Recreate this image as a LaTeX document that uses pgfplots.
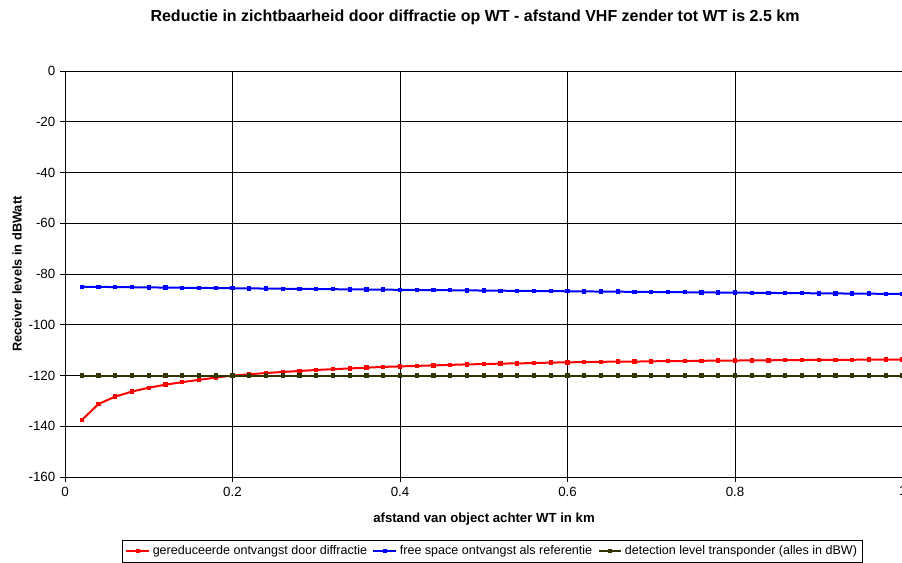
\documentclass[border=0pt]{standalone}
\usepackage{fontspec}
\setmainfont{Liberation Sans}
\usepackage{pgfplots}
\pgfplotsset{compat=1.18}
\definecolor{olv}{RGB}{51,51,0}

\pgfplotstableread{
x red blue green
0.02 -137.6 -85.00 -120
0.04 -131.2 -85.07 -120
0.06 -128.3 -85.14 -120
0.08 -126.3 -85.20 -120
0.10 -124.8 -85.27 -120
0.12 -123.6 -85.34 -120
0.14 -122.6 -85.40 -120
0.16 -121.7 -85.47 -120
0.18 -120.8 -85.53 -120
0.20 -120.0 -85.60 -120
0.22 -119.5 -85.66 -120
0.24 -119.0 -85.73 -120
0.26 -118.6 -85.79 -120
0.28 -118.2 -85.85 -120
0.30 -117.8 -85.91 -120
0.32 -117.5 -85.98 -120
0.34 -117.2 -86.04 -120
0.36 -116.9 -86.10 -120
0.38 -116.6 -86.16 -120
0.40 -116.4 -86.22 -120
0.42 -116.2 -86.28 -120
0.44 -116.0 -86.34 -120
0.46 -115.8 -86.40 -120
0.48 -115.6 -86.45 -120
0.50 -115.5 -86.51 -120
0.52 -115.3 -86.57 -120
0.54 -115.2 -86.63 -120
0.56 -115.1 -86.68 -120
0.58 -114.9 -86.74 -120
0.60 -114.8 -86.80 -120
0.62 -114.7 -86.85 -120
0.64 -114.6 -86.91 -120
0.66 -114.5 -86.96 -120
0.68 -114.5 -87.02 -120
0.70 -114.4 -87.07 -120
0.72 -114.3 -87.13 -120
0.74 -114.3 -87.18 -120
0.76 -114.2 -87.23 -120
0.78 -114.1 -87.29 -120
0.80 -114.1 -87.34 -120
0.82 -114.0 -87.39 -120
0.84 -114.0 -87.45 -120
0.86 -113.9 -87.50 -120
0.88 -113.9 -87.55 -120
0.90 -113.8 -87.60 -120
0.92 -113.8 -87.65 -120
0.94 -113.8 -87.70 -120
0.96 -113.7 -87.75 -120
0.98 -113.7 -87.80 -120
1.00 -113.7 -87.85 -120
}\data

\begin{document}
\begin{tikzpicture}
\begin{axis}[
  name=ax, at={(0,0)}, anchor=south west,
  scale only axis, width=628.1pt, height=304.5pt,
  xmin=0, xmax=1, ymin=-160, ymax=0,
  xtick={0,0.2,0.4,0.6,0.8,1}, ytick={-160,-140,-120,-100,-80,-60,-40,-20,0},
  axis lines=left, axis line style={-, black, line width=0.75pt},
  grid=major, grid style={black, line width=0.6pt},
  tick align=outside, major tick length=3.75pt,
  tick style={black, line width=0.6pt},
  /pgf/number format/assume math mode=true,
  ticklabel style={font=\fontsize{10}{11}\selectfont},
  legend columns=3,
  legend style={at={(0.5104,-0.1823)}, anchor=center, draw=black, line width=0.6pt,
    font=\fontsize{9.4}{11}\selectfont, inner sep=2pt,
    /tikz/every even column/.append style={column sep=2pt}},
  legend cell align=left,
]
\addplot[red, line width=1.5pt, mark=square*, mark size=0.9pt] table[x=x,y=red] {\data};
\addlegendentry{gereduceerde ontvangst door diffractie}
\addplot[blue, line width=1.5pt, mark=square*, mark size=0.9pt] table[x=x,y=blue] {\data};
\addlegendentry{free space ontvangst als referentie}
\addplot[olv, line width=1.5pt, mark=square*, mark size=0.9pt] table[x=x,y=green] {\data};
\addlegendentry{detection level transponder (alles in dBW)}
\end{axis}
\node[font=\bfseries\fontsize{12}{14}\selectfont] at (307.5pt,345pt) {Reductie in zichtbaarheid door diffractie op WT - afstand VHF zender tot WT is 2.5 km};
\node[font=\bfseries\fontsize{9.9}{12}\selectfont] at (314.25pt,-31.5pt) {afstand van object achter WT in km};
\node[font=\bfseries\fontsize{9.6}{12}\selectfont, rotate=90] at (-36pt,152.25pt) {Receiver levels in dBWatt};
\pgfresetboundingbox
\path (-48.75pt,-63.75pt) rectangle (627.7pt,357.75pt);
\end{tikzpicture}
\end{document}
